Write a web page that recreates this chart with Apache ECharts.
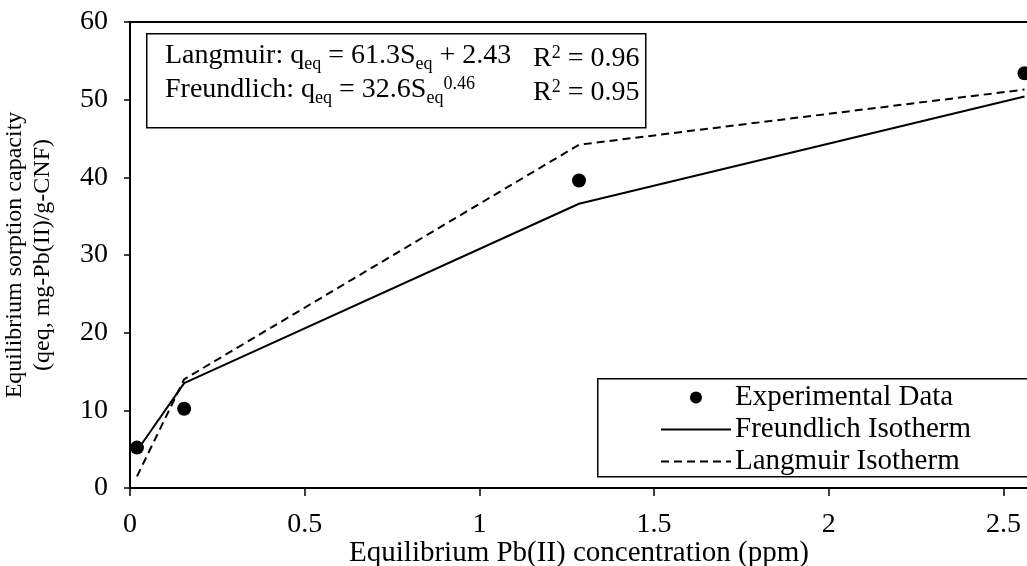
<!DOCTYPE html>
<html>
<head>
<meta charset="utf-8">
<script src="https://cdn.jsdelivr.net/npm/echarts@6/dist/echarts.min.js"></script>
<style>
html,body{margin:0;padding:0;background:#fff;}
#chart{width:1027px;height:566px;}
</style>
</head>
<body>
<div id="chart"></div>
<script>
// Data
const concentration = [0.02, 0.155, 1.285, 2.56];
const experimental = [5.2, 10.2, 39.6, 53.4];
const freundlich = [4.8, 13.5, 36.6, 50.4];
const langmuir = [1.5, 14.0, 44.2, 51.3];
const yTicks = [0, 10, 20, 30, 40, 50, 60];
const xTickLabels = ['0', '0.5', '1', '1.5', '2', '2.5'];

const FONT = '"Liberation Serif", "Times New Roman", serif';
const pairs = (xs, ys) => xs.map((x, i) => [x, ys[i]]);

const chart = echarts.init(document.getElementById('chart'));
const rich = {
  n: { fontFamily: FONT, fontSize: 28, color: '#000', lineHeight: 34 },
  sub: { fontFamily: FONT, fontSize: 18, color: '#000', lineHeight: 18, verticalAlign: 'bottom' },
  sup: { fontFamily: FONT, fontSize: 18, color: '#000', lineHeight: 18, verticalAlign: 'top', padding: [2, 0, 0, 0] }
};
const hiddenSymbol = { color: 'rgba(0,0,0,0)', borderColor: 'rgba(0,0,0,0)', borderWidth: 0 };

chart.setOption({
  animation: false,
  backgroundColor: '#fff',
  grid: {
    left: 130, top: 22, bottom: 78, right: -1,
    outerBoundsMode: 'none', containLabel: false,
    show: true, borderColor: '#000', borderWidth: 2, backgroundColor: 'transparent'
  },
  xAxis: {
    type: 'value', min: 0, max: 2.57, interval: 0.5,
    name: 'Equilibrium Pb(II) concentration (ppm)',
    nameLocation: 'middle', nameGap: 51, nameMoveOverlap: false,
    nameTextStyle: { fontFamily: FONT, fontSize: 29, lineHeight: 29, color: '#000' },
    axisLine: { show: true, onZero: false, lineStyle: { color: '#000', width: 2 } },
    axisTick: { show: true, inside: false, length: 8, lineStyle: { color: '#000', width: 1.5 } },
    axisLabel: {
      margin: 23, fontFamily: FONT, fontSize: 28, color: '#000', showMaxLabel: false,
      formatter: v => { const i = Math.round(v / 0.5); return Math.abs(v - i * 0.5) < 1e-9 ? xTickLabels[i] : ''; }
    },
    splitLine: { show: false }
  },
  yAxis: {
    type: 'value', min: yTicks[0], max: yTicks[yTicks.length - 1], interval: 10,
    name: 'Equilibrium sorption capacity\n(qeq, mg-Pb(II)/g-CNF)',
    nameLocation: 'middle', nameGap: 73, nameRotate: 90, nameMoveOverlap: false,
    nameTextStyle: { fontFamily: FONT, fontSize: 24, lineHeight: 28, color: '#000' },
    axisLine: { show: true, lineStyle: { color: '#000', width: 2 } },
    axisTick: { show: true, inside: false, length: 6, lineStyle: { color: '#000', width: 1.5 } },
    axisLabel: { margin: 22, fontFamily: FONT, fontSize: 28, color: '#000' },
    splitLine: { show: false }
  },
  legend: {
    z: 30,
    orient: 'vertical', left: 660, top: 383, padding: 0,
    itemWidth: 70, itemHeight: 12, itemGap: 3,
    textStyle: { fontFamily: FONT, fontSize: 29, lineHeight: 29, color: '#000', padding: [0, 0, 0, -1] },
    data: [
      { name: 'Experimental Data' },
      { name: 'Freundlich Isotherm', itemStyle: hiddenSymbol },
      { name: 'Langmuir Isotherm', itemStyle: hiddenSymbol }
    ]
  },
  series: [
    {
      name: 'Freundlich Isotherm', type: 'line', data: pairs(concentration, freundlich),
      symbol: 'none', lineStyle: { color: '#000', width: 2, type: 'solid' },
      itemStyle: { color: '#000' }, z: 3
    },
    {
      name: 'Langmuir Isotherm', type: 'line', data: pairs(concentration, langmuir),
      symbol: 'none', lineStyle: { color: '#000', width: 2, type: [8, 5] },
      itemStyle: { color: '#000' }, z: 3
    },
    {
      name: 'Experimental Data', type: 'scatter', data: pairs(concentration, experimental),
      symbol: 'circle', symbolSize: 14, itemStyle: { color: '#000', opacity: 1 }, z: 4
    }
  ],
  graphic: [
    {
      type: 'rect', left: 146, top: 33, z: 10,
      shape: { width: 499, height: 94 },
      style: { fill: '#fff', stroke: '#000', lineWidth: 1.5 }
    },
    {
      type: 'text', left: 165, top: 42, z: 11,
      style: {
        text: '{n|Langmuir: q}{sub|eq}{n| = 61.3S}{sub|eq}{n| + 2.43}\n{n|Freundlich: q}{sub|eq}{n| = 32.6S}{sub|eq}{sup|0.46}',
        rich: rich
      }
    },
    {
      type: 'text', left: 533, top: 42, z: 11,
      style: {
        text: '{n|R}{sup|2}{n| = 0.96}\n{n|R}{sup|2}{n| = 0.95}',
        rich: rich
      }
    },
    {
      type: 'rect', left: 597, top: 378, z: 10,
      shape: { width: 460, height: 98 },
      style: { fill: '#fff', stroke: '#000', lineWidth: 1.5 }
    }
  ]
});
</script>
</body>
</html>
